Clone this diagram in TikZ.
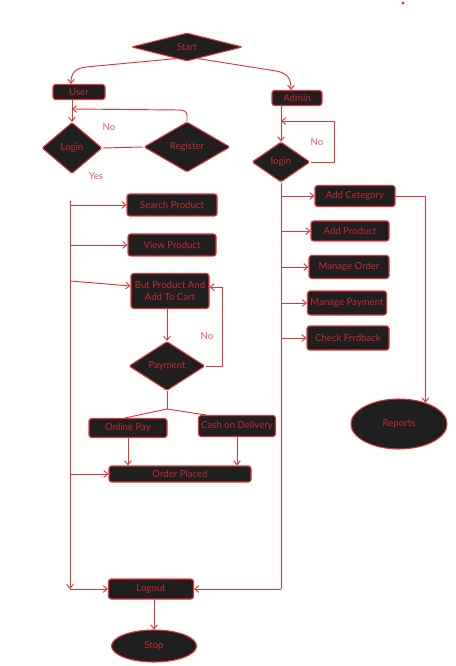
\documentclass[tikz,border=0pt]{standalone}
\usepackage{fontspec}
\setmainfont{Lato}
\usetikzlibrary{shapes.geometric,arrows.meta,calc}
\definecolor{rline}{HTML}{E0353B}
\definecolor{rtext}{HTML}{C62B30}
\definecolor{dfill}{HTML}{1F1F1F}
\definecolor{rlabel}{HTML}{E25A5E}
\begin{document}
\begin{tikzpicture}[x=0.75pt,y=-0.75pt,
  base/.style={draw=rline, fill=dfill, line width=0.8pt, text=rtext,
    font=\fontsize{7.2}{8.8}\selectfont, inner sep=0pt, align=center},
  sz/.style 2 args={minimum width=#1*0.75pt, minimum height=#2*0.75pt},
  proc/.style={base, rectangle, rounded corners=2pt},
  dec/.style={base, diamond, rounded corners=1pt},
  term/.style={base, ellipse},
  conn/.style={draw=rline, line width=0.7pt},
  arr/.style={conn, -{Straight Barb[length=3pt,width=5pt]}},
  lbl/.style={text=rlabel, font=\fontsize{7.2}{8.8}\selectfont, inner sep=0pt}]
\useasboundingbox (0,0) rectangle (455,666);

% nodes
\node[dec, sz={111}{28}] (start) at (187,47) {Start};
\node[proc, sz={52}{15}] (user) at (79,92) {User};
\node[proc, sz={50}{15}] (admin) at (297,98) {Admin};
\node[dec, sz={60}{51}] (login) at (72,148) {Login};
\node[dec, sz={86}{50}] (register) at (187,147) {Register};
\node[dec, sz={58}{40}] (alogin) at (281,162) {login};
\node[proc, sz={90}{22}] (search) at (172,205) {Search Product};
\node[proc, sz={88}{22}] (view) at (172,245) {View Product};
\node[proc, sz={78}{35}] (cart) at (170,291) {But Product And\\Add To Cart};
\node[dec, sz={76}{49}] (pay) at (167,366) {Payment};
\node[proc, sz={78}{19}] (online) at (128,428) {Online Pay};
\node[proc, sz={77}{21}] (cod) at (237,426) {Cash on Delivery};
\node[proc, sz={142}{16}] (placed) at (180,474) {Order Placed};
\node[proc, sz={85}{20}] (logout) at (151,589) {Logout};
\node[term, sz={85}{32}] (stop) at (154,646) {Stop};
\node[proc, sz={80}{21}] (cat) at (355,196) {Add Cetegory};
\node[proc, sz={78}{20}] (aprod) at (350,231) {Add Product};
\node[proc, sz={80}{23}] (morder) at (349,267) {Manage Order};
\node[proc, sz={79}{24}] (mpay) at (347,303) {Manage Payment};
\node[proc, sz={82}{24}] (check) at (348,338) {Check Frrdback};
\node[term, sz={96}{50}] (reports) at (399,424) {Reports};
\node[circle, fill=rline, inner sep=0pt, minimum size=2.6pt] (dot) at (403,3) {};

% labels
\node[lbl] (no1) at (109,127) {No};
\node[lbl] (yes) at (96,176) {Yes};
\node[lbl] (no2) at (317,142) {No};
\node[lbl] (no3) at (207,336) {No};

% coordinates
\coordinate (ujoin) at (72,109);
\coordinate (ajoin) at (281,121);
\coordinate (ltop) at (70,201);
\coordinate (lbot) at (70,589);
\coordinate (split) at (167,409);
\coordinate (rbot) at (alogin.south |- logout.east);

% connectors
\draw[arr] ($(start.south)!0.2!(start.west)$) -- (86,67)
  .. controls (75,68.5) and (71,73) .. ($(user.north)+(-8,0)$);
\draw[arr] ($(start.south)!0.2!(start.east)$) -- (276,71)
  .. controls (287,73) and (291,78) .. ($(admin.north)+(-6,0)$);
\draw[arr] (user.south -| login.north) -- (login.north);
\draw[conn] (login.east) -- (register.west);
\draw[arr] (register.north) -- (187,116) .. controls (187,111) and (184,110) .. (178,110) -- (ujoin);
\draw[arr] (admin.south -| alogin.north) -- (alogin.north);
\draw[arr] (alogin.east) -- (334,162) -- (334,121) -- (ajoin);

\draw[arr] (ltop) -- (lbot);
\draw[arr] (lbot) -- (logout.west);
\draw[arr] (search.west -| ltop) -- (search.west);
\draw[arr] (view.west -| ltop) -- (view.west);
\draw[arr] (70,281) -- ($(cart.west)+(0,-5)$);
\draw[arr] (placed.west -| ltop) -- (placed.west);

\draw[arr] (cart.south -| pay.north) -- (pay.north);
\draw[arr] (pay.east) -- (222,366) -- (222,287) -- ($(cart.east)+(0,-4)$);
\draw[conn] (pay.south) -- (split);
\draw[conn] (split) -- ($(online.north)+(-3,0)$);
\draw[conn] (split) -- ($(cod.north west)+(8,0)$);
\draw[arr] (online.south) -- (online.south |- placed.north);
\draw[arr] (cod.south) -- (cod.south |- placed.north);
\draw[arr] (logout.south -| stop.north) -- (stop.north);

\draw[conn] (alogin.south) -- (rbot);
\draw[arr] (rbot) -- (logout.east);
\draw[arr] (cat.west -| alogin.south) -- (cat.west);
\draw[arr] (aprod.west -| alogin.south) -- (aprod.west);
\draw[arr] (morder.west -| alogin.south) -- (morder.west);
\draw[arr] (mpay.west -| alogin.south) -- (mpay.west);
\draw[arr] (check.west -| alogin.south) -- (check.west);
\draw[arr] (cat.east) -- (cat.east -| reports.39) -- (reports.39);
\end{tikzpicture}
\end{document}
